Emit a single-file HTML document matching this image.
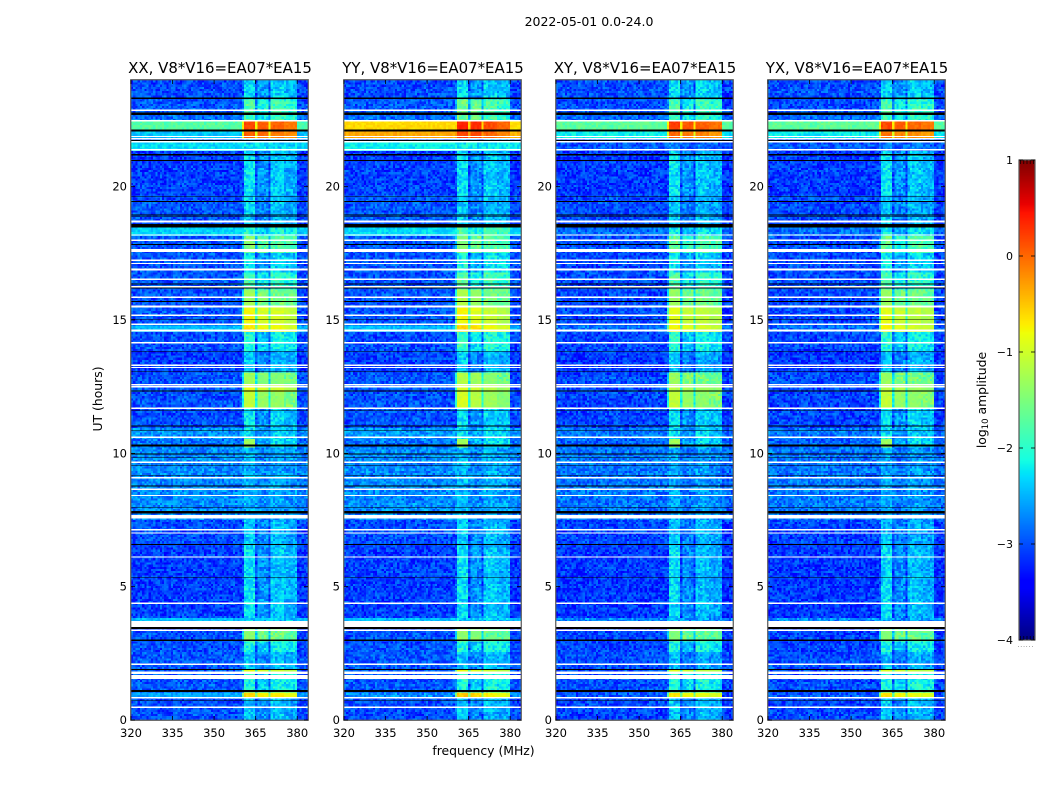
<!DOCTYPE html>
<html lang="en">
<head>
<meta charset="utf-8">
<title>2022-05-01 0.0-24.0</title>
<style>
html,body{margin:0;padding:0;background:#fff;width:1050px;height:800px;overflow:hidden}
svg text{font-family:"DejaVu Sans","Liberation Sans",sans-serif;fill:#000}
</style>
</head>
<body>
<svg id="chart" xmlns="http://www.w3.org/2000/svg" width="1050" height="800" viewBox="0 0 1050 800" style="display:block">
  <text x="589" y="26" font-size="12.5" text-anchor="middle">2022-05-01 0.0-24.0</text>
  <text x="483.5" y="755" font-size="12.4" text-anchor="middle">frequency (MHz)</text>
  <text transform="translate(102,399) rotate(-90)" font-size="12.4" text-anchor="middle">UT (hours)</text>
  <text transform="translate(986,400) rotate(-90)" font-size="12.4" text-anchor="middle">log<tspan font-size="8.5" dy="2">10</tspan><tspan dy="-2"> amplitude</tspan></text>
  <text x="1026" y="647" font-size="5" fill="#555" text-anchor="middle" letter-spacing="1.2">......</text>
</svg>
<script>
// Polarisation panels
const panelTitles = ['XX, V8*V16=EA07*EA15', 'YY, V8*V16=EA07*EA15', 'XY, V8*V16=EA07*EA15', 'YX, V8*V16=EA07*EA15'];
// Axis ticks
const freqTicks = [320, 335, 350, 365, 380];
const hourTicks = [0, 5, 10, 15, 20];
const colorbarTicks = [1, 0, -1, -2, -3, -4];
const colorbarMinorTicks = [0.1, 0.3, 0.5, 0.7, 0.9];
// Time bands (UT hour where each band starts), levels in log10 amplitude
const bandStart = [0,.45,.82,.88,1.02,1.54,1.8,1.9,2.6,3.0,3.41,3.71,3.82,6.56,7.54,10.28,10.6,10.99,11.66,12.3,12.53,13.05,13.8,14.55,14.81,15.52,16.16,16.8,17.55,18.19,18.45,19.65,21.38,21.68,21.86,22.09,22.5,22.69,23.25];
const backgroundXX = [-3,-3,-2.95,-2.55,-2.95,-2.95,-2.95,-2.95,-3,-3,-2.95,-2.45,-3.08,-3,-2.7,-2.8,-2.65,-3,-3,-2.97,-2.97,-3.08,-3,-2.45,-2.97,-2.97,-2.97,-2.97,-2.95,-2.35,-2.97,-3.08,-2.3,-2.95,-2.4,-1.75,-2.85,-2.95,-3];
const backgroundYY = [-3,-3,-2.95,-2.7,-2.95,-2.95,-2.95,-2.95,-3,-3,-2.95,-2.45,-3.08,-3,-2.7,-2.8,-2.65,-3,-3,-2.97,-2.97,-3.08,-3,-2.45,-2.97,-2.97,-2.97,-2.97,-2.95,-2.3,-2.97,-3.08,-2.2,-2.95,-0.35,-0.6,-2.85,-2.95,-3];
const backgroundXY = [-3.05,-3.05,-3,-2.95,-3,-3,-3,-3,-3.05,-3.05,-2.95,-2.7,-3.12,-3.05,-2.8,-2.9,-2.8,-3.05,-3.05,-3.02,-3.02,-3.12,-3.05,-2.85,-3.02,-3.02,-3.02,-3.02,-3,-2.85,-3.02,-3.1,-2.95,-2.95,-2.2,-1.7,-2.9,-3,-3];
const backgroundYX = [-3.05,-3.05,-3,-2.95,-3,-3,-3,-3,-3.05,-3.05,-2.95,-2.7,-3.12,-3.05,-2.8,-2.9,-2.8,-3.05,-3.05,-3.02,-3.02,-3.12,-3.05,-2.85,-3.02,-3.02,-3.02,-3.02,-3,-2.85,-3.02,-3.1,-2.95,-2.95,-2.2,-1.7,-2.9,-3,-3];
const interferenceXX = [-2.45,-2.45,-2.4,-0.7,-2.1,-2.1,-1,-2.45,-2.1,-1.55,-1.6,-2.45,-2.4,-2.45,-2.55,-2.25,-2.3,-2.35,-1.35,-1,-1.45,-2.45,-2.15,-0.8,-0.95,-1.5,-1.95,-2.35,-1.7,-2.1,-2.45,-2.4,-2.4,-2.6,-0.05,0.05,-1.9,-1.85,-2.35];
const interferenceYY = [-2.45,-2.45,-2.4,-0.65,-2.1,-2.1,-0.95,-2.45,-2.1,-1.5,-1.6,-2.45,-2.4,-2.45,-2.5,-2.2,-2.3,-2.35,-1.2,-1.05,-1.35,-2.45,-2.05,-0.7,-0.95,-1.4,-1.85,-2.25,-1.65,-1.8,-2.45,-2.4,-2.3,-2.6,0.1,0.25,-1.7,-1.7,-2.35];
const interferenceXY = [-2.45,-2.45,-2.4,-0.8,-2.1,-2.1,-1.05,-2.5,-2.15,-1.6,-1.6,-2.55,-2.45,-2.5,-2.6,-2.25,-2.35,-2.35,-1.35,-1.25,-1.5,-2.5,-2.15,-0.9,-1.05,-1.55,-1.95,-2.35,-1.75,-2.2,-2.5,-2.4,-2.8,-2.7,-0.1,0.1,-1.95,-1.9,-2.35];
const interferenceYX = [-2.45,-2.45,-2.4,-0.8,-2.1,-2.1,-1.05,-2.5,-2.15,-1.6,-1.6,-2.55,-2.45,-2.5,-2.6,-2.25,-2.35,-2.35,-1.35,-1.25,-1.5,-2.5,-2.15,-0.9,-1.05,-1.55,-1.95,-2.35,-1.75,-2.2,-2.5,-2.4,-2.8,-2.7,-0.15,0.05,-1.95,-1.9,-2.35];
const firstBlockBoost = [0,0,0,0,0,0,0,0,0,0,0,0,0.1,0,0,0.9,0,0.05,0.15,0,0.05,0.05,0.1,0,0.05,0.1,0.1,0.1,0.05,0,0.05,0.1,0,0,0,0,0,0,0];
// Interference sub-bands (MHz) and per-polarisation offsets
const blockStart = [360.5, 365.8, 370.5, 375.5];
const blockEnd = [365, 370, 375, 379.7];
const blockOffsetXX = [0.12, 0, -0.02, -0.15];
const blockOffsetYY = [0.12, 0.05, -0.1, -0.25];
const blockOffsetXY = [0.12, 0, -0.05, -0.15];
const blockOffsetYX = [0.12, 0, -0.05, -0.15];
const quietBlockOffset = [0.05, -0.25, 0, -0.1];
// Flagged (no data) intervals in UT hours
const whiteGapCentre = [22.86,22.47,21.88,21.8,21.69,21.38,18.69,18.19,17.99,17.61,17.24,17.12,16.9,16.53,16.25,15.85,15.5,15.18,14.84,14.6,14.15,13.3,13.22,12.57,12.5,11.69,10.6,9.66,9.08,8.65,8.42,7.62,7.14,7.01,6.11,4.38,3.59,3.36,2.09,1.77,1.61,0.84,0.48];
const whiteGapHours = [.05,.05,.05,.05,.05,.05,.08,.05,.05,.11,.05,.05,.08,.05,.05,.05,.08,.05,.05,.08,.05,.05,.05,.05,.05,.05,.05,.05,.05,.05,.05,.12,.05,.05,.05,.05,.24,.05,.05,.08,.15,.05,.05];
const blackGapCentre = [23.31,22.73,22.11,21.73,21.2,20.98,19.62,19.44,18.94,18.87,18.54,17.83,16.35,16.2,15.69,15.03,13.83,13.08,12.34,11.6,11.03,10.85,10.29,9.98,9.85,9.55,9.16,8.78,7.98,7.79,6.58,5.35,3.45,2.99,1.89,1.09,0.72];
const blackGapHours = [.06,.1,.08,.03,.06,.03,.03,.03,.03,.03,.13,.03,.03,.03,.03,.03,.03,.03,.03,.03,.03,.03,.08,.03,.03,.03,.03,.03,.03,.08,.05,.03,.08,.05,.03,.08,.03];
// Fine grain texture of the spectrogram, estimated by eye
const speckle = [.12,-.31,.05,.28,-.14,-.38,.21,.02,-.22,.33,-.07,.16,-.29,.09,.37,-.18,-.03,.25,-.35,.11,-.11,.3,-.25,.06,.18,-.4,.14,.35,-.09,-.2,.03,.27,-.33,.19,-.05,.08,-.27,.39,-.15,.01,.23,-.37,.1,-.12,.31,-.24,.15,-.02,.26,-.34,.07,.2,-.17,-.06,.34,-.3,.13,.04,-.21,.29,-.1,-.36,.17,.24,-.08,.0,-.28,.36,-.16,.09,-.23,.22,.06,-.32,.13,.32,-.04,-.19,.27,-.39,.11,.02,-.13,.38,-.26,.16,-.01,-.3,.2,.05,-.17,.28,-.35,.1,-.07,.24,-.22,.03,.33,-.12,.15];

const svgNS = 'http://www.w3.org/2000/svg';
const svg = document.getElementById('chart');
const plotTop = 80, plotBottom = 720, plotWidth = 177, pxPerMHz = 2.77;
const panelLeft = [131, 344, 556, 768];
const panelBackground = [backgroundXX, backgroundYY, backgroundXY, backgroundYX];
const panelInterference = [interferenceXX, interferenceYY, interferenceXY, interferenceYX];
const panelOffsets = [blockOffsetXX, blockOffsetYY, blockOffsetXY, blockOffsetYX];
const rowStep = 0.08, colStep = 0.8, rowCount = 300, colCount = 80;

function yOfHour(h) { return plotBottom - h / 24 * (plotBottom - plotTop); }
function xOfFreq(left, f) { return left + (f - 320) * pxPerMHz; }
function ramp(t, pts) {
  if (t <= pts[0][0]) return pts[0][1];
  for (let i = 1; i < pts.length; i++) {
    if (t <= pts[i][0]) {
      const a = pts[i - 1], b = pts[i];
      return a[1] + (b[1] - a[1]) * (t - a[0]) / (b[0] - a[0]);
    }
  }
  return pts[pts.length - 1][1];
}
function jet(v) {
  const t = Math.max(0, Math.min(1, (v + 4) / 5));
  const r = ramp(t, [[.35, 0], [.66, 1], [.89, 1], [1, .5]]);
  const g = ramp(t, [[.125, 0], [.375, 1], [.64, 1], [.91, 0]]);
  const b = ramp(t, [[0, .5], [.11, 1], [.34, 1], [.65, 0]]);
  return 'rgb(' + Math.round(r * 255) + ',' + Math.round(g * 255) + ',' + Math.round(b * 255) + ')';
}
function bandIndex(h) {
  let k = 0;
  for (let i = 0; i < bandStart.length; i++) if (h >= bandStart[i]) k = i;
  return k;
}
function cellLevel(p, h, f, row, col) {
  const k = bandIndex(h);
  const bg = panelBackground[p][k], rfi = panelInterference[p][k];
  let level = f > 380 ? bg - 0.05 : bg;
  let inBlock = false;
  if (f >= 360 && f < 380) {
    level = Math.max(bg + 0.05, rfi - 0.8);
    for (let b = 0; b < blockStart.length; b++) {
      if (f >= blockStart[b] && f < blockEnd[b]) {
        const off = rfi < -1.7 ? quietBlockOffset[b] : panelOffsets[p][b];
        level = Math.max(bg, rfi + off + (b === 0 ? firstBlockBoost[k] : 0));
        inBlock = true;
      }
    }
  }
  const idx = (row * row * 7 + col * col * 3 + row * col + col * 13 + row * 5 + p * 29) % speckle.length;
  const streak = speckle[(row * 7 + p * 11) % speckle.length] * 0.08;
  let amp = 0.85;
  if (level > -1.5) amp = 0.25;
  else if (level > -2.6) amp = inBlock ? 0.75 : 0.45;
  return level + (speckle[idx] + streak) * amp;
}
function add(parent, tag, attrs) {
  const el = document.createElementNS(svgNS, tag);
  for (const key in attrs) el.setAttribute(key, attrs[key]);
  parent.appendChild(el);
  return el;
}

panelTitles.forEach(function (title, p) {
  const left = panelLeft[p];
  const panel = add(svg, 'g', {});
  
  

  const titleEl = add(panel, 'text', { x: left + plotWidth / 2 + 0.5, y: 73, 'font-size': 14.95, 'text-anchor': 'middle' });
  titleEl.textContent = title;
  
  

  const plot = add(panel, 'svg', { x: left, y: plotTop, width: plotWidth, height: plotBottom - plotTop, viewBox: left + ' ' + plotTop + ' ' + plotWidth + ' ' + (plotBottom - plotTop), 'shape-rendering': 'crispEdges' });
  
  

  for (let row = 0; row < rowCount; row++) {
    const h0 = row * rowStep;
    const yTop = yOfHour(h0 + rowStep), yBot = yOfHour(h0);
    for (let col = 0; col < colCount; col++) {
      const f0 = 320 + col * colStep;
      const x0 = xOfFreq(left, f0), x1 = xOfFreq(left, f0 + colStep);
      const cell = add(plot, 'rect', { x: x0.toFixed(2), y: yTop.toFixed(2), width: (x1 - x0 + 0.4).toFixed(2), height: (yBot - yTop + 0.4).toFixed(2), fill: jet(cellLevel(p, h0 + rowStep / 2, f0 + colStep / 2, row, col)) });
      
      
    }
  }
  whiteGapCentre.forEach(function (c, i) {
    const y0 = yOfHour(c + whiteGapHours[i] / 2), y1 = yOfHour(c - whiteGapHours[i] / 2);
    const gap = add(plot, 'rect', { x: left, y: y0.toFixed(2), width: plotWidth, height: (y1 - y0).toFixed(2), fill: '#fff' });
    
    
  });
  blackGapCentre.forEach(function (c, i) {
    const y0 = yOfHour(c + blackGapHours[i] / 2), y1 = yOfHour(c - blackGapHours[i] / 2);
    const gap = add(plot, 'rect', { x: left, y: y0.toFixed(2), width: plotWidth, height: (y1 - y0).toFixed(2), fill: '#000' });
    
    
  });

  const frame = add(panel, 'rect', { x: left - 0.25, y: plotTop - 0.25, width: plotWidth + 0.5, height: plotBottom - plotTop + 0.5, fill: 'none', stroke: '#555', 'stroke-width': 1.2 });
  
  

  freqTicks.forEach(function (f) {
    const x = xOfFreq(left, f);
    const bottomTick = add(panel, 'line', { x1: x, x2: x, y1: plotBottom, y2: plotBottom - 4, stroke: '#000', 'stroke-width': 0.8 });
    
    
    const topTick = add(panel, 'line', { x1: x, x2: x, y1: plotTop, y2: plotTop + 4, stroke: '#000', 'stroke-width': 0.8 });
    
    
    const label = add(panel, 'text', { x: x, y: 737, 'font-size': 11.5, 'text-anchor': 'middle' });
    label.textContent = f;
    
    
  });
  hourTicks.forEach(function (h) {
    const y = yOfHour(h);
    const leftTick = add(panel, 'line', { x1: left, x2: left + 4, y1: y, y2: y, stroke: '#000', 'stroke-width': 0.8 });
    
    
    const rightTick = add(panel, 'line', { x1: left + plotWidth, x2: left + plotWidth - 4, y1: y, y2: y, stroke: '#000', 'stroke-width': 0.8 });
    
    
    const label = add(panel, 'text', { x: left - 4, y: y + 4, 'font-size': 11.5, 'text-anchor': 'end' });
    label.textContent = h;
    
    
  });
});

// Colorbar
const cbLeft = 1019, cbWidth = 16, cbTop = 160, cbBottom = 640;
function yOfLevel(v) { return cbBottom - (v + 4) / 5 * (cbBottom - cbTop); }
const colorbar = add(svg, 'g', { 'shape-rendering': 'auto' });


for (let v = -4; v < 1; v += 0.0125) {
  const strip = add(colorbar, 'rect', { x: cbLeft, y: yOfLevel(v + 0.0125).toFixed(2), width: cbWidth, height: 1.6, fill: jet(v + 0.00625), 'shape-rendering': 'crispEdges' });
  
  
}
const cbFrame = add(colorbar, 'rect', { x: cbLeft, y: cbTop, width: cbWidth, height: cbBottom - cbTop, fill: 'none', stroke: '#555', 'stroke-width': 1.2 });


colorbarTicks.forEach(function (v) {
  const y = yOfLevel(v);
  const t1 = add(colorbar, 'line', { x1: cbLeft, x2: cbLeft + 4, y1: y, y2: y, stroke: '#000', 'stroke-width': 0.8 });
  
  
  const t2 = add(colorbar, 'line', { x1: cbLeft + cbWidth, x2: cbLeft + cbWidth - 4, y1: y, y2: y, stroke: '#000', 'stroke-width': 0.8 });
  
  
  const label = add(colorbar, 'text', { x: 1013, y: y + 4, 'font-size': 11, 'text-anchor': 'end' });
  label.textContent = v < 0 ? '\u2212' + Math.abs(v) : String(v);
  
  
});
colorbarMinorTicks.forEach(function (m) {
  const x = cbLeft + m * cbWidth;
  const t1 = add(colorbar, 'line', { x1: x, x2: x, y1: cbTop, y2: cbTop + 4, stroke: '#000', 'stroke-width': 0.7 });
  
  
  const t2 = add(colorbar, 'line', { x1: x, x2: x, y1: cbBottom, y2: cbBottom - 4, stroke: '#000', 'stroke-width': 0.7 });
  
  
});
</script>
</body>
</html>
